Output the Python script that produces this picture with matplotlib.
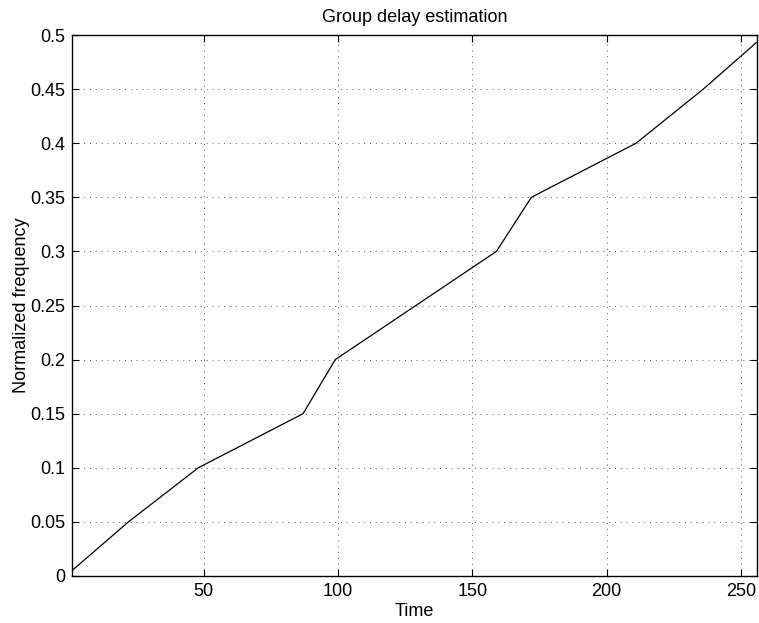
import matplotlib
matplotlib.use("Agg")
import matplotlib.pyplot as plt

plt.rcParams['font.family'] = ['Liberation Sans', 'DejaVu Sans']

# group delay curve, breakpoints
time = [1, 22, 48, 87, 99, 159, 172, 211, 236, 256]
freq = [0.005, 0.05, 0.1, 0.15, 0.2, 0.3, 0.35, 0.4, 0.45, 0.4935]

xticks = [50, 100, 150, 200, 250]
yticks = [0, 0.05, 0.1, 0.15, 0.2, 0.25, 0.3, 0.35, 0.4, 0.45, 0.5]
yticklabels = ['0', '0.05', '0.1', '0.15', '0.2', '0.25', '0.3', '0.35', '0.4', '0.45', '0.5']

fig = plt.figure(figsize=(7.59, 6.23), dpi=100)
ax = fig.add_axes([72 / 759, 47 / 623, 685 / 759, 541 / 623])

ax.plot(time, freq, color='black', linewidth=0.9)

ax.set_xlim(1, 256)
ax.set_ylim(0, 0.5)
ax.set_xticks(xticks)
ax.set_yticks(yticks)
ax.set_yticklabels(yticklabels)

ax.grid(True, linestyle=(0, (1, 5)), color='#555555', linewidth=0.7)
ax.tick_params(direction='in', length=5, top=True, right=True, labelsize=13, pad=5)
for s in ax.spines.values():
    s.set_linewidth(1.0)

ax.set_title('Group delay estimation', fontsize=13, pad=9)
ax.set_xlabel('Time', fontsize=13, labelpad=2)
ax.set_ylabel('Normalized frequency', fontsize=13, labelpad=0)

fig.savefig('out.png', dpi=100)
